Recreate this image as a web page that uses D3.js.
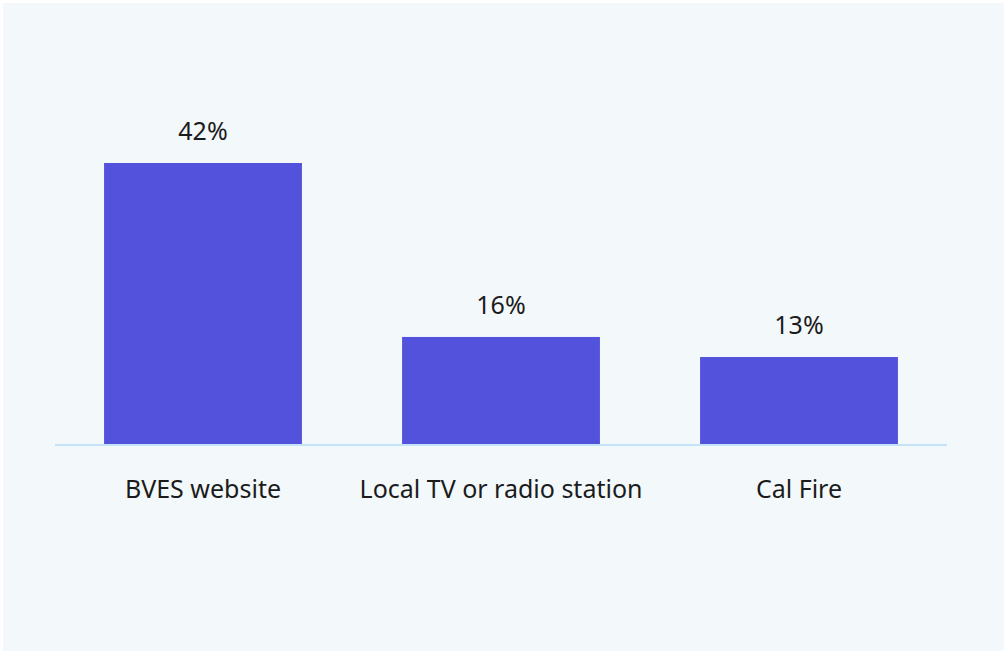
<!DOCTYPE html>
<html>
<head>
<meta charset="utf-8">
<script src="https://cdn.jsdelivr.net/npm/d3@7"></script>
<style>
  html, body { margin: 0; padding: 0; background: #ffffff; }
  svg { display: block; }
  text { font-family: "Noto Sans", "Open Sans", sans-serif; fill: #1b1b1b; }
</style>
</head>
<body>
<div id="chart"></div>
<script>
const categories = ['BVES website', 'Local TV or radio station', 'Cal Fire'];
const values = [42, 16, 13];

const W = 1007, H = 654;

const svg = d3.select('#chart')
  .append('svg')
  .attr('width', W)
  .attr('height', H);

// panel background
svg.append('rect')
  .attr('x', 3).attr('y', 3)
  .attr('width', W - 6).attr('height', H - 6)
  .attr('fill', '#f3f8fb');

const x = d3.scaleBand()
  .domain(categories)
  .range([54, 948])
  .paddingInner(0.336)
  .paddingOuter(0.168);

const y = d3.scaleLinear()
  .domain([0, 42])
  .range([444, 163]);

// bars
svg.selectAll('.bar')
  .data(values)
  .enter()
  .append('rect')
  .attr('class', 'bar')
  .attr('x', (d, i) => x(categories[i]))
  .attr('y', d => y(d))
  .attr('width', x.bandwidth())
  .attr('height', d => y(0) - y(d))
  .attr('fill', '#5252dc');

// baseline
svg.append('line')
  .attr('x1', 55).attr('x2', 947)
  .attr('y1', y(0) + 1).attr('y2', y(0) + 1)
  .attr('stroke', '#c4e2fa')
  .attr('stroke-width', 2);

// value labels
svg.selectAll('.val')
  .data(values)
  .enter()
  .append('text')
  .attr('class', 'val')
  .attr('x', (d, i) => x(categories[i]) + x.bandwidth() / 2)
  .attr('y', d => y(d) - 23)
  .attr('text-anchor', 'middle')
  .attr('font-size', 25)
  .text(d => d + '%');

// category labels
svg.selectAll('.cat')
  .data(categories)
  .enter()
  .append('text')
  .attr('class', 'cat')
  .attr('x', d => x(d) + x.bandwidth() / 2)
  .attr('y', 498)
  .attr('text-anchor', 'middle')
  .attr('font-size', 25)
  .text(d => d);
</script>
</body>
</html>
